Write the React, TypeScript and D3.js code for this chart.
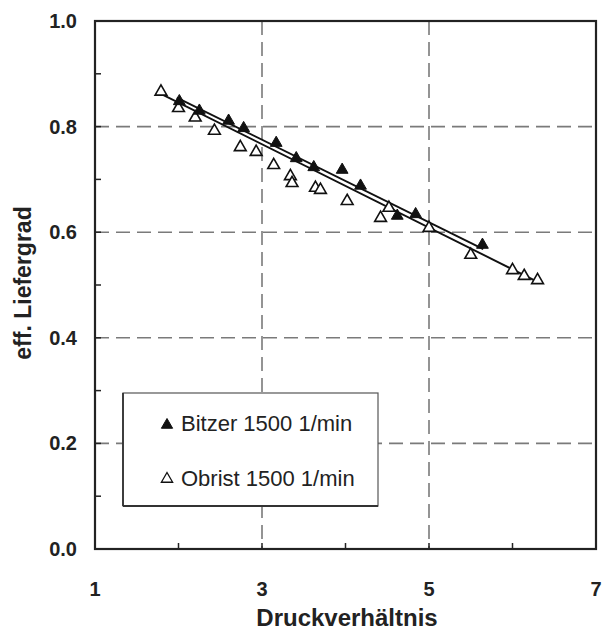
import React from "react";
import * as d3 from "d3";

const xTicks = [1, 3, 5, 7];
const xMinorTicks = [1, 2, 3, 4, 5, 6, 7];
const yTicks = [0, 0.2, 0.4, 0.6, 0.8, 1.0];
const yMinorTicks = [0.1, 0.2, 0.3, 0.4, 0.5, 0.6, 0.7, 0.8, 0.9];
const xGrid = [3, 5];
const yGrid = [0.2, 0.4, 0.6, 0.8];

const bitzerX = [2.01, 2.25, 2.6, 2.78, 3.17, 3.41, 3.62, 3.96, 4.18, 4.62, 4.84, 5.64];
const bitzerY = [0.848, 0.83, 0.811, 0.797, 0.769, 0.74, 0.723, 0.718, 0.688, 0.631, 0.634, 0.576];

const obristX = [1.79, 2.0, 2.2, 2.43, 2.74, 2.93, 3.14, 3.34, 3.36, 3.64, 3.7, 4.02, 4.42, 4.52, 5.0, 5.5, 6.0, 6.14, 6.3];
const obristY = [0.866, 0.835, 0.817, 0.792, 0.761, 0.752, 0.727, 0.706, 0.693, 0.684, 0.68, 0.659, 0.627, 0.646, 0.608, 0.557, 0.528, 0.517, 0.509];

const bitzerFitX = [1.98, 5.65];
const bitzerFitY = [0.855, 0.568];
const obristFitX = [1.79, 6.3];
const obristFitY = [0.862, 0.506];

const legendLabels = ["Bitzer 1500 1/min", "Obrist 1500 1/min"];
const xTitle = "Druckverhältnis";
const yTitle = "eff. Liefergrad";

const W = 602;
const H = 631;
const L = 95, R = 596, T = 21, B = 549;

export default function App() {
  const x = d3.scaleLinear().domain([1, 7]).range([L, R]);
  const y = d3.scaleLinear().domain([0, 1]).range([B, T]);
  const line = d3.line<[number, number]>().x((d) => x(d[0])).y((d) => y(d[1]));
  const tri = d3.symbol().type(d3.symbolTriangle).size(60)() as string;
  const triSmall = d3.symbol().type(d3.symbolTriangle).size(55)() as string;

  const bitzerPts = bitzerX.map((v, i) => [v, bitzerY[i]] as [number, number]);
  const obristPts = obristX.map((v, i) => [v, obristY[i]] as [number, number]);
  const bFit = bitzerFitX.map((v, i) => [v, bitzerFitY[i]] as [number, number]);
  const oFit = obristFitX.map((v, i) => [v, obristFitY[i]] as [number, number]);

  const font = "'Liberation Sans', Arial, sans-serif";
  const legX = 123, legY = 393, legW = 255, legH = 113;

  return (
    <svg width={W} height={H} style={{ position: "absolute", left: 0, top: 0, background: "#fff" }}>
      <rect x={0} y={0} width={W} height={H} fill="#fff" />
      {xGrid.map((g) => (
        <line key={"xg" + g} x1={x(g)} x2={x(g)} y1={T} y2={B} stroke="#7a7a7a" strokeWidth={1.6} strokeDasharray="14,7" />
      ))}
      {yGrid.map((g) => (
        <line key={"yg" + g} x1={L} x2={R} y1={y(g)} y2={y(g)} stroke="#7a7a7a" strokeWidth={1.6} strokeDasharray="14,7" />
      ))}
      <path d={line(bFit) as string} fill="none" stroke="#111" strokeWidth={1.9} />
      <path d={line(oFit) as string} fill="none" stroke="#111" strokeWidth={1.9} />
      {obristPts.map((p, i) => (
        <path key={"o" + i} d={tri} transform={`translate(${x(p[0])},${y(p[1])})`} fill="#fff" stroke="#111" strokeWidth={1.6} />
      ))}
      {bitzerPts.map((p, i) => (
        <path key={"b" + i} d={tri} transform={`translate(${x(p[0])},${y(p[1])})`} fill="#111" stroke="#111" strokeWidth={1} />
      ))}
      <rect x={legX} y={legY} width={legW} height={legH} fill="#fff" stroke="#555" strokeWidth={1.2} />
      <line x1={legX} x2={legX + legW} y1={legY + legH} y2={legY + legH} stroke="#333" strokeWidth={2} />
      <line x1={legX} x2={legX} y1={legY} y2={legY + legH} stroke="#333" strokeWidth={1.8} />
      <path d={triSmall} transform={`translate(167,425)`} fill="#111" stroke="#111" strokeWidth={1} />
      <text x={181} y={431} fontFamily={font} fontSize={22} fill="#222">{legendLabels[0]}</text>
      <path d={triSmall} transform={`translate(167,479)`} fill="#fff" stroke="#111" strokeWidth={1.3} />
      <text x={181} y={486} fontFamily={font} fontSize={22} fill="#222">{legendLabels[1]}</text>
      <rect x={L} y={T} width={R - L} height={B - T} fill="none" stroke="#222" strokeWidth={2.2} />
      {xMinorTicks.map((t) => (
        <line key={"xt" + t} x1={x(t)} x2={x(t)} y1={B} y2={B - 6} stroke="#222" strokeWidth={1.5} />
      ))}
      {yMinorTicks.map((t) => (
        <line key={"yt" + t} x1={L} x2={L + 6} y1={y(t)} y2={y(t)} stroke="#222" strokeWidth={1.5} />
      ))}
      {xTicks.map((t) => (
        <text key={"xl" + t} x={x(t)} y={596} textAnchor="middle" fontFamily={font} fontWeight="bold" fontSize={20} fill="#222">{t}</text>
      ))}
      {yTicks.map((t) => (
        <text key={"yl" + t} x={77} y={y(t) + 7} textAnchor="end" fontFamily={font} fontWeight="bold" fontSize={20} fill="#222">{t.toFixed(1)}</text>
      ))}
      <text x={347} y={626} textAnchor="middle" fontFamily={font} fontWeight="bold" fontSize={24} fill="#222">{xTitle}</text>
      <text transform={`translate(31,283) rotate(-90)`} textAnchor="middle" fontFamily={font} fontWeight="bold" fontSize={23} fill="#222">{yTitle}</text>
    </svg>
  );
}
